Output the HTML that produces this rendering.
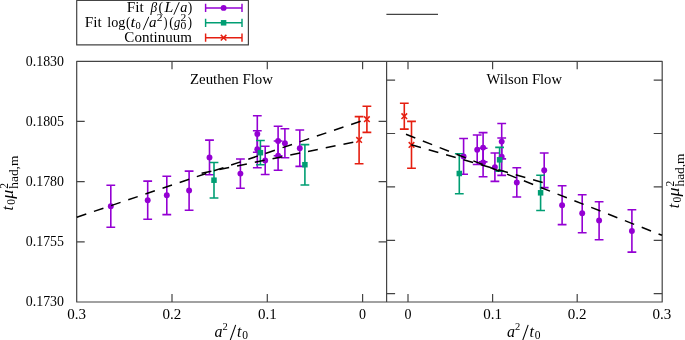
<!DOCTYPE html><html><head><meta charset="utf-8"><style>html,body{margin:0;padding:0;background:#fff;overflow:hidden}svg{display:block;will-change:transform}text{font-family:"Liberation Serif",serif;fill:#000}.i{font-style:italic}</style></head><body><svg width="685" height="340" viewBox="0 0 685 340"><g fill="none" stroke="#444" stroke-width="1.2" stroke-linejoin="round"><path d="M76.7 61.3H662.2V302H76.7Z"/><path d="M386.6 61.3V302"/><path d="M76.7 121.47h8M386.6 121.47h-8M76.7 181.65h8M386.6 181.65h-8M76.7 241.82h8M386.6 241.82h-8M386.6 80.1h8.5M662.2 80.1h-8.5M386.6 133.5h8.5M662.2 133.5h-8.5M386.6 186.9h8.5M662.2 186.9h-8.5M386.6 240.3h8.5M662.2 240.3h-8.5M386.6 293.7h8.5M662.2 293.7h-8.5M172 61.3v8M172 302v-8M267.3 61.3v8M267.3 302v-8M362.6 61.3v8M362.6 302v-8M408 61.3v8M408 302v-8M492.6 61.3v8M492.6 302v-8M577.2 61.3v8M577.2 302v-8"/><path d="M76.7 0.5H248.4V44.9H76.7Z"/><path d="M386.4 14.4H438"/></g><g stroke-width="1.6" fill="none"><path d="M110.8 185.3V227.2M106.4 185.3H115.2M106.4 227.2H115.2" stroke="#9400d3"/><path d="M147.7 181.1V219.3M143.3 181.1H152.1M143.3 219.3H152.1" stroke="#9400d3"/><path d="M166.8 176.2V214.6M162.4 176.2H171.2M162.4 214.6H171.2" stroke="#9400d3"/><path d="M189.1 171.1V210.2M184.7 171.1H193.5M184.7 210.2H193.5" stroke="#9400d3"/><path d="M209.5 140.1V174.7M205.1 140.1H213.9M205.1 174.7H213.9" stroke="#9400d3"/><path d="M240.4 159V188.3M236 159H244.8M236 188.3H244.8" stroke="#9400d3"/><path d="M257.3 115.7V152.3M252.9 115.7H261.7M252.9 152.3H261.7" stroke="#9400d3"/><path d="M257.3 130.8V167.8M252.9 130.8H261.7M252.9 167.8H261.7" stroke="#9400d3"/><path d="M265.2 146.2V174.5M260.8 146.2H269.6M260.8 174.5H269.6" stroke="#9400d3"/><path d="M278.1 126.2V155.7M273.7 126.2H282.5M273.7 155.7H282.5" stroke="#9400d3"/><path d="M278.1 141V170.3M273.7 141H282.5M273.7 170.3H282.5" stroke="#9400d3"/><path d="M284.9 128.7V157.7M280.5 128.7H289.3M280.5 157.7H289.3" stroke="#9400d3"/><path d="M299.8 130V166.4M295.4 130H304.2M295.4 166.4H304.2" stroke="#9400d3"/><path d="M463.6 138.5V174.2M459.2 138.5H468M459.2 174.2H468" stroke="#9400d3"/><path d="M477.2 135V164.5M472.8 135H481.6M472.8 164.5H481.6" stroke="#9400d3"/><path d="M483.1 132.6V161.9M478.7 132.6H487.5M478.7 161.9H487.5" stroke="#9400d3"/><path d="M483.1 148.2V176.8M478.7 148.2H487.5M478.7 176.8H487.5" stroke="#9400d3"/><path d="M494.9 153V181.4M490.5 153H499.3M490.5 181.4H499.3" stroke="#9400d3"/><path d="M501.7 123.5V158.9M497.3 123.5H506.1M497.3 158.9H506.1" stroke="#9400d3"/><path d="M501.7 138V175.4M497.3 138H506.1M497.3 175.4H506.1" stroke="#9400d3"/><path d="M516.8 167.8V197M512.4 167.8H521.2M512.4 197H521.2" stroke="#9400d3"/><path d="M544.2 153V187.6M539.8 153H548.6M539.8 187.6H548.6" stroke="#9400d3"/><path d="M562.1 185.8V224.6M557.7 185.8H566.5M557.7 224.6H566.5" stroke="#9400d3"/><path d="M582.2 194.7V232.7M577.8 194.7H586.6M577.8 232.7H586.6" stroke="#9400d3"/><path d="M599.1 201.7V239.8M594.7 201.7H603.5M594.7 239.8H603.5" stroke="#9400d3"/><path d="M631.9 209.8V252.1M627.5 209.8H636.3M627.5 252.1H636.3" stroke="#9400d3"/><path d="M214 162.5V198M209.6 162.5H218.4M209.6 198H218.4" stroke="#009e73"/><path d="M260.4 140.5V164.8M256 140.5H264.8M256 164.8H264.8" stroke="#009e73"/><path d="M304.9 144.6V185M300.5 144.6H309.3M300.5 185H309.3" stroke="#009e73"/><path d="M459.3 153.7V193.7M454.9 153.7H463.7M454.9 193.7H463.7" stroke="#009e73"/><path d="M499.6 147.4V171.3M495.2 147.4H504M495.2 171.3H504" stroke="#009e73"/><path d="M540.6 175.2V210.5M536.2 175.2H545M536.2 210.5H545" stroke="#009e73"/><path d="M359.1 116.6V163.7M354.7 116.6H363.5M354.7 163.7H363.5" stroke="#e51e10"/><path d="M366.9 106.3V132.4M362.5 106.3H371.3M362.5 132.4H371.3" stroke="#e51e10"/><path d="M404.3 103.3V129.1M399.9 103.3H408.7M399.9 129.1H408.7" stroke="#e51e10"/><path d="M411.5 121.4V168.2M407.1 121.4H415.9M407.1 168.2H415.9" stroke="#e51e10"/></g><g fill="#9400d3"><circle cx="110.8" cy="206.2" r="2.95"/><circle cx="147.7" cy="200.3" r="2.95"/><circle cx="166.8" cy="195.3" r="2.95"/><circle cx="189.1" cy="190.5" r="2.95"/><circle cx="209.5" cy="157.4" r="2.95"/><circle cx="240.4" cy="173.6" r="2.95"/><circle cx="257.3" cy="134" r="2.95"/><circle cx="257.3" cy="149.3" r="2.95"/><circle cx="265.2" cy="160.4" r="2.95"/><circle cx="278.1" cy="141" r="2.95"/><circle cx="278.1" cy="155.8" r="2.95"/><circle cx="284.9" cy="143.2" r="2.95"/><circle cx="299.8" cy="148.2" r="2.95"/><circle cx="463.6" cy="156.4" r="2.95"/><circle cx="477.2" cy="149.7" r="2.95"/><circle cx="483.1" cy="147.6" r="2.95"/><circle cx="483.1" cy="162.5" r="2.95"/><circle cx="494.9" cy="167.1" r="2.95"/><circle cx="501.7" cy="141.6" r="2.95"/><circle cx="501.7" cy="156.8" r="2.95"/><circle cx="516.8" cy="182.5" r="2.95"/><circle cx="544.2" cy="170.2" r="2.95"/><circle cx="562.1" cy="205.2" r="2.95"/><circle cx="582.2" cy="213.3" r="2.95"/><circle cx="599.1" cy="220.4" r="2.95"/><circle cx="631.9" cy="231" r="2.95"/></g><g fill="#009e73"><rect x="211.25" y="177.45" width="5.5" height="5.5"/><rect x="257.65" y="149.95" width="5.5" height="5.5"/><rect x="302.15" y="161.95" width="5.5" height="5.5"/><rect x="456.55" y="170.75" width="5.5" height="5.5"/><rect x="496.85" y="157.05" width="5.5" height="5.5"/><rect x="537.85" y="190.05" width="5.5" height="5.5"/></g><g stroke="#e51e10" stroke-width="1.5" fill="none"><path d="M356.3 137.1l5.6 5.6M356.3 142.7l5.6 -5.6"/><path d="M364.1 116.4l5.6 5.6M364.1 122l5.6 -5.6"/><path d="M401.5 113.4l5.6 5.6M401.5 119l5.6 -5.6"/><path d="M408.7 142.1l5.6 5.6M408.7 147.7l5.6 -5.6"/></g><g stroke="#000" stroke-width="1.5" stroke-dasharray="10 8.1" fill="none"><path d="M76.8 217.2L362 120.8"/><path d="M201.6 173.15L359 141"/><path d="M406 134.3L662 235.3"/><path d="M411.3 144.8L543 182.6"/></g><g stroke-width="1.45" fill="none"><path d="M205.6 7.9H242M205.6 3.8v8.2M242 3.8v8.2" stroke="#9400d3"/><path d="M205.6 22.8H242M205.6 18.7v8.2M242 18.7v8.2" stroke="#009e73"/><path d="M205.6 37.7H242M205.6 33.6v8.2M242 33.6v8.2" stroke="#e51e10"/></g><circle cx="223.6" cy="7.9" r="2.95" fill="#9400d3"/><rect x="220.85" y="20.05" width="5.5" height="5.5" fill="#009e73"/><path d="M220.8 34.9l5.6 5.6M220.8 40.5l5.6 -5.6" stroke="#e51e10" stroke-width="1.5"/><g font-size="14"><text x="64" y="66" font-size="13.6" text-anchor="end" textLength="38.2" lengthAdjust="spacingAndGlyphs">0.1830</text><text x="64" y="126.05" font-size="13.6" text-anchor="end" textLength="38.2" lengthAdjust="spacingAndGlyphs">0.1805</text><text x="64" y="186.1" font-size="13.6" text-anchor="end" textLength="38.2" lengthAdjust="spacingAndGlyphs">0.1780</text><text x="64" y="246.15" font-size="13.6" text-anchor="end" textLength="38.2" lengthAdjust="spacingAndGlyphs">0.1755</text><text x="64" y="306.2" font-size="13.6" text-anchor="end" textLength="38.2" lengthAdjust="spacingAndGlyphs">0.1730</text><text x="76.7" y="318.8" text-anchor="middle" textLength="18.8" lengthAdjust="spacingAndGlyphs">0.3</text><text x="172" y="318.8" text-anchor="middle" textLength="18.8" lengthAdjust="spacingAndGlyphs">0.2</text><text x="267.3" y="318.8" text-anchor="middle" textLength="18.8" lengthAdjust="spacingAndGlyphs">0.1</text><text x="362.6" y="318.8" text-anchor="middle">0</text><text x="408" y="318.8" text-anchor="middle">0</text><text x="492.6" y="318.8" text-anchor="middle" textLength="18.8" lengthAdjust="spacingAndGlyphs">0.1</text><text x="577.2" y="318.8" text-anchor="middle" textLength="18.8" lengthAdjust="spacingAndGlyphs">0.2</text><text x="661.8" y="318.8" text-anchor="middle" textLength="18.8" lengthAdjust="spacingAndGlyphs">0.3</text><text x="190" y="83.6" textLength="83" lengthAdjust="spacingAndGlyphs">Zeuthen Flow</text><text x="486.6" y="83.9" textLength="75.4" lengthAdjust="spacingAndGlyphs">Wilson Flow</text><text x="214.4" y="337" font-size="16" font-style="italic">a</text><text x="222.6" y="330.3" font-size="10.5">2</text><path d="M235.7 324.9L230.1 340.6" stroke="#000" stroke-width="1.05"/><text x="236.9" y="337" font-size="16" font-style="italic">t</text><text x="242.2" y="338.8" font-size="11.5">0</text><text x="506.9" y="337" font-size="16" font-style="italic">a</text><text x="515.1" y="330.3" font-size="10.5">2</text><path d="M528.2 324.9L522.6 340.6" stroke="#000" stroke-width="1.05"/><text x="529.4" y="337" font-size="16" font-style="italic">t</text><text x="534.7" y="338.8" font-size="11.5">0</text></g><text x="126.78" y="11.5" font-size="13.8" textLength="17.02" lengthAdjust="spacingAndGlyphs">Fit</text><text x="150.44" y="11.5" font-size="13.8" font-style="italic" textLength="6.66" lengthAdjust="spacingAndGlyphs">β</text><text x="158.41" y="11.5" font-size="14.5" textLength="4.63" lengthAdjust="spacingAndGlyphs">(</text><text x="164.54" y="11.5" font-size="13.8" font-style="italic" textLength="8.86" lengthAdjust="spacingAndGlyphs">L</text><path d="M179.3 2.1L173.8 14.7" stroke="#000" stroke-width="0.95"/><text x="180.21" y="11.5" font-size="13.8" font-style="italic" textLength="7.14" lengthAdjust="spacingAndGlyphs">a</text><text x="187.63" y="11.5" font-size="14.5" textLength="4.52" lengthAdjust="spacingAndGlyphs">)</text><text x="84.78" y="26.5" font-size="13.8" textLength="17.02" lengthAdjust="spacingAndGlyphs">Fit</text><text x="107.24" y="26.5" font-size="13.8" textLength="18.12" lengthAdjust="spacingAndGlyphs">log</text><text x="126.02" y="26.5" font-size="14.5" textLength="4.51" lengthAdjust="spacingAndGlyphs">(</text><text x="130.52" y="26.5" font-size="13.8" font-style="italic" textLength="4.83" lengthAdjust="spacingAndGlyphs">t</text><text x="135.49" y="28.7" font-size="9.8" textLength="5.24" lengthAdjust="spacingAndGlyphs">0</text><path d="M148.8 16.8L143.2 29.9" stroke="#000" stroke-width="0.95"/><text x="149.09" y="26.5" font-size="13.8" font-style="italic" textLength="7.49" lengthAdjust="spacingAndGlyphs">a</text><text x="156.75" y="20.8" font-size="9.8" textLength="5.77" lengthAdjust="spacingAndGlyphs">2</text><text x="163.49" y="26.5" font-size="14.5" textLength="4" lengthAdjust="spacingAndGlyphs">)</text><text x="169.22" y="26.5" font-size="14.5" textLength="4.51" lengthAdjust="spacingAndGlyphs">(</text><text x="174" y="26.5" font-size="13.8" font-style="italic" textLength="6.27" lengthAdjust="spacingAndGlyphs">g</text><text x="180.55" y="20.8" font-size="9.8" textLength="5.77" lengthAdjust="spacingAndGlyphs">2</text><text x="180.55" y="28.5" font-size="9.8" textLength="5.84" lengthAdjust="spacingAndGlyphs">0</text><text x="187.66" y="26.5" font-size="14.5" textLength="4.26" lengthAdjust="spacingAndGlyphs">)</text><text x="124.36" y="42.2" font-size="13.8" textLength="67.67" lengthAdjust="spacingAndGlyphs">Continuum</text><g transform="translate(13.4 210.1) rotate(-90)"><text x="-0.3" y="0" font-size="16" font-style="italic">t</text><text x="5.4" y="1.8" font-size="11.5">0</text><text x="11.4" y="0" font-size="16" font-style="italic" textLength="9" lengthAdjust="spacingAndGlyphs">μ</text><text x="21.3" y="-5.6" font-size="11.5">2</text><text x="21.4" y="4.6" font-size="11.5" textLength="33" lengthAdjust="spacingAndGlyphs">had,m</text></g><g transform="translate(679.4 207.9) rotate(-90)"><text x="-0.3" y="0" font-size="16" font-style="italic">t</text><text x="5.4" y="1.8" font-size="11.5">0</text><text x="11.4" y="0" font-size="16" font-style="italic" textLength="9" lengthAdjust="spacingAndGlyphs">μ</text><text x="21.3" y="-5.6" font-size="11.5">2</text><text x="21.4" y="4.6" font-size="11.5" textLength="33" lengthAdjust="spacingAndGlyphs">had,m</text></g></svg></body></html>
